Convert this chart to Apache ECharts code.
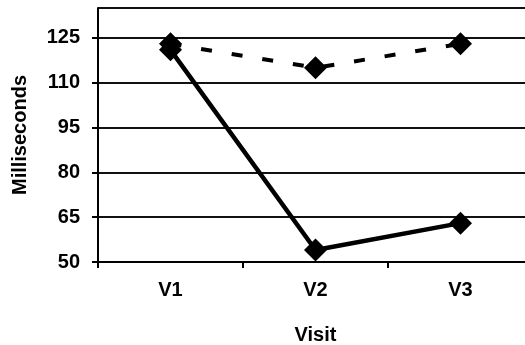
<!DOCTYPE html>
<html>
<head>
<meta charset="utf-8">
<script src="https://cdn.jsdelivr.net/npm/echarts@6/dist/echarts.min.js"></script>
<style>
  html, body { margin: 0; padding: 0; background: #fff; overflow: hidden; }
  #chart { width: 525px; height: 345px; }
</style>
</head>
<body>
<div id="chart"></div>
<script>
// Visit categories and response times (ms)
const visits = ['V1', 'V2', 'V3'];
const solidSeries = [121, 54, 63];
const dashedSeries = [123, 115, 123];
const yTicks = [50, 65, 80, 95, 110, 125];

const FONT = '"Liberation Sans", Arial, sans-serif';
const chart = echarts.init(document.getElementById('chart'), null, { renderer: 'canvas' });

// The plot area runs slightly past the right edge of the canvas, so its width is fixed
// and the grid is not squeezed back inside the container.
chart.setOption({
  backgroundColor: '#fff',
  animation: false,
  grid: {
    left: 98, top: 8, width: 435, height: 254,
    containLabel: false,
    outerBoundsMode: 'none'
  },
  xAxis: {
    type: 'category',
    data: visits,
    boundaryGap: true,
    name: 'Visit',
    nameLocation: 'middle',
    nameGap: 63,
    nameTextStyle: { fontFamily: FONT, fontWeight: 'bold', fontSize: 20, color: '#000' },
    axisLine: { lineStyle: { color: '#000', width: 2 } },
    axisTick: { show: true, length: 6, lineStyle: { color: '#000', width: 2 } },
    axisLabel: { margin: 18, fontFamily: FONT, fontWeight: 'bold', fontSize: 20, color: '#000' },
    splitLine: { show: false }
  },
  yAxis: {
    type: 'value',
    min: yTicks[0],
    max: 135,
    interval: 15,
    name: 'Milliseconds',
    nameLocation: 'middle',
    nameGap: 68,
    nameRotate: 90,
    nameTextStyle: { fontFamily: FONT, fontWeight: 'bold', fontSize: 20, color: '#000' },
    axisLine: { show: true, lineStyle: { color: '#000', width: 2 } },
    axisTick: { show: true, length: 6, lineStyle: { color: '#000', width: 2 } },
    axisLabel: {
      margin: 18, fontFamily: FONT, fontWeight: 'bold', fontSize: 20, color: '#000',
      showMaxLabel: false,
      formatter: v => (yTicks.indexOf(v) >= 0 ? String(v) : '')
    },
    splitLine: { show: true, lineStyle: { color: '#111', width: 2 } }
  },
  series: [
    {
      type: 'line',
      data: dashedSeries,
      symbol: 'diamond',
      symbolSize: 23,
      itemStyle: { color: '#000' },
      lineStyle: { color: '#000', width: 4, type: [11, 20] }
    },
    {
      type: 'line',
      data: solidSeries,
      symbol: 'diamond',
      symbolSize: 23,
      itemStyle: { color: '#000' },
      lineStyle: { color: '#000', width: 4.5 }
    }
  ]
});
</script>
</body>
</html>
